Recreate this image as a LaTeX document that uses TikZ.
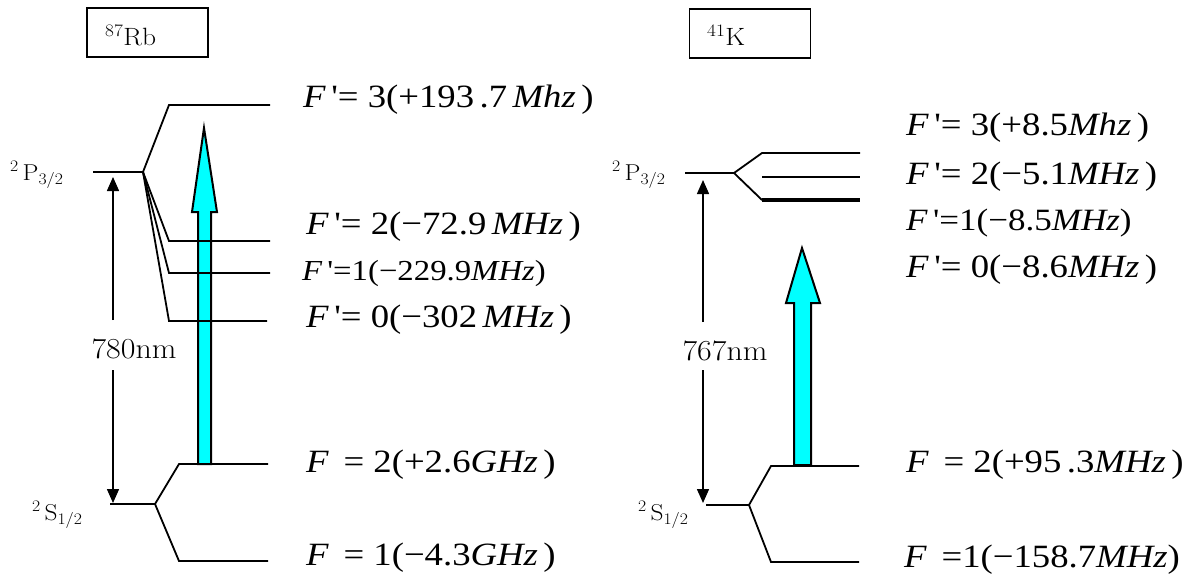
\documentclass[tikz,border=0pt]{standalone}
\usepackage{fontspec}
\newfontfamily\tms{Liberation Serif}[FakeStretch=1.13]
\newfontfamily\lmx{Latin Modern Roman}[FakeStretch=1.1]
\usetikzlibrary{arrows.meta}
\definecolor{aqua}{RGB}{0,255,255}
\begin{document}
\begin{tikzpicture}[x=1pt,y=-1pt,
  lvl/.style={line width=1.8pt,line join=miter},
  eq/.style={anchor=west,inner sep=0pt,font=\tms\fontsize{32.5}{36}\selectfont},
  eqs/.style={anchor=west,inner sep=0pt,font=\tms\fontsize{29}{33}\selectfont},
  eqk/.style={anchor=west,inner sep=0pt,font=\tms\fontsize{31}{35}\selectfont},
  term/.style={anchor=west,inner sep=0pt,font=\lmx\fontsize{23}{27}\selectfont},
  nm/.style={inner sep=1pt,font=\lmx\fontsize{29}{33}\selectfont},
  isobox/.style={draw,line width=1.6pt,minimum width=121pt,minimum height=49pt,inner sep=0pt},
  isotxt/.style={anchor=west,inner sep=0pt,font=\lmx\fontsize{25}{29}\selectfont},
  wl/.style={line width=1.5pt,-{Triangle[width=12pt,length=14pt]}},
  pump/.style={draw=black,line width=2pt,fill=aqua,line join=miter}
]
\useasboundingbox (0,0) rectangle (1196,578);

% ---------------- Rb ----------------
\node[isobox] (rbbox) at (147.5,32.5) {};
\node[isotxt] (rbname) at (105,35) {\textsuperscript{87}Rb};

\coordinate (rbP0) at (93,172);
\coordinate (rbP) at (143,172);
\coordinate (rb3a) at (169,105); \coordinate (rb3b) at (270,105);
\coordinate (rb2a) at (169,241); \coordinate (rb2b) at (270,241);
\coordinate (rb1a) at (169,273); \coordinate (rb1b) at (270,273);
\coordinate (rb0a) at (169,321); \coordinate (rb0b) at (267,321);
\coordinate (rbS0) at (110,504);
\coordinate (rbS) at (155,504);
\coordinate (rbF2a) at (179,464); \coordinate (rbF2b) at (268,464);
\coordinate (rbF1a) at (179,561); \coordinate (rbF1b) at (268,561);

% pump arrow
\draw[pump] (198,464) -- (198,212) -- (192,212) -- (204,128) -- (217,212) -- (211,212) -- (211,464) -- cycle;

\draw[lvl] (rbP0) -- (rbP) -- (rb3a) -- (rb3b);
\draw[lvl] (rbP) -- (rb2a) -- (rb2b);
\draw[lvl] (rbP) -- (rb1a) -- (rb1b);
\draw[lvl] (rbP) -- (rb0a) -- (rb0b);
\draw[lvl] (rbS0) -- (rbS) -- (rbF2a) -- (rbF2b);
\draw[lvl] (rbS) -- (rbF1a) -- (rbF1b);

\node[term] (rbPlab) at (10,175) {\textsuperscript{2}\,P\textsubscript{3/2}};
\node[term] (rbSlab) at (32,515) {\textsuperscript{2}\,S\textsubscript{1/2}};

\node[nm] (rbnm) at (134,349) {780nm};
\coordinate (rbw1) at (113,320); \coordinate (rbwT) at (113,177);
\coordinate (rbw2) at (113,370); \coordinate (rbwB) at (113,503);
\draw[wl] (rbw1) -- (rbwT);
\draw[wl] (rbw2) -- (rbwB);

\node[eq] (rbL3) at (303,100) {\textit{F}\,'= 3(+193\,.7\,\textit{Mhz}\,)};
\node[eq] (rbL2) at (306,227) {\textit{F}\,'= 2(−72.9\,\textit{MHz}\,)};
\node[eqs] (rbL1) at (302,274) {\textit{F}\,'=1(−229.9\textit{MHz})};
\node[eq] (rbL0) at (306,320) {\textit{F}\,'= 0(−302\,\textit{MHz}\,)};
\node[eq] (rbLS2) at (306,465) {\textit{F}\, = 2(+2.6\textit{GHz}\,)};
\node[eq] (rbLS1) at (306,558) {\textit{F}\, = 1(−4.3\textit{GHz}\,)};

% ---------------- K ----------------
\node[isobox] (kbox) at (750,33.5) {};
\node[isotxt] (kname) at (707,35) {\textsuperscript{41}K};

\coordinate (kP0) at (685,173);
\coordinate (kP) at (734,173);
\coordinate (k3a) at (762,153); \coordinate (k3b) at (860,153);
\coordinate (k2a) at (762,177); \coordinate (k2b) at (860,177);
\coordinate (k1a) at (762,200); \coordinate (k1b) at (860,200);
\coordinate (kS0) at (706,505);
\coordinate (kS) at (749,505);
\coordinate (kF2a) at (771,466); \coordinate (kF2b) at (859,466);
\coordinate (kF1a) at (771,562); \coordinate (kF1b) at (859,562);

\draw[pump] (794,465) -- (794,303) -- (786,303) -- (802,248) -- (820,303) -- (811,303) -- (811,465) -- cycle;

\draw[lvl] (kP0) -- (kP) -- (k3a) -- (k3b);
\draw[lvl] (k2a) -- (k2b);
\draw[lvl] (kP) -- (k1a);
\draw[line width=3.5pt] (k1a) -- (k1b);
\draw[lvl] (kS0) -- (kS) -- (kF2a) -- (kF2b);
\draw[lvl] (kS) -- (kF1a) -- (kF1b);

\node[term] (kPlab) at (612,175) {\textsuperscript{2}\,P\textsubscript{3/2}};
\node[term] (kSlab) at (638,515) {\textsuperscript{2}\,S\textsubscript{1/2}};

\node[nm] (knm) at (725,351) {767nm};
\coordinate (kw1) at (703,322); \coordinate (kwT) at (703,180);
\coordinate (kw2) at (703,370); \coordinate (kwB) at (703,503);
\draw[wl] (kw1) -- (kwT);
\draw[wl] (kw2) -- (kwB);

\node[eq] (kL3) at (906,128) {\textit{F}\,'= 3(+8.5\textit{Mhz}\,)};
\node[eq] (kL2) at (906,177) {\textit{F}\,'= 2(−5.1\textit{MHz}\,)};
\node[eqk] (kL1) at (906,223) {\textit{F}\,'=1(−8.5\textit{MHz})};
\node[eq] (kL0) at (906,270) {\textit{F}\,'= 0(−8.6\textit{MHz}\,)};
\node[eq] (kLS2) at (906,465) {\textit{F}\, = 2(+95\,.3\textit{MHz}\,)};
\node[eq] (kLS1) at (904,560) {\textit{F}\, =1(−158.7\textit{MHz})};
\end{tikzpicture}
\end{document}
